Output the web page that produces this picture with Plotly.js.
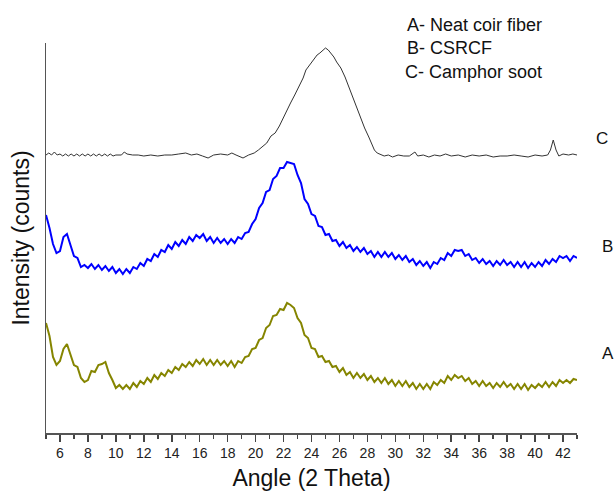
<!DOCTYPE html>
<html>
<head>
<meta charset="utf-8">
<script src="https://cdn.plot.ly/plotly-3.0.1.min.js"></script>
<style>html,body{margin:0;padding:0;background:#fff;}#chart{width:615px;height:491px;}</style>
</head>
<body>
<div id="chart"></div>
<script>
// 2θ grid (degrees) for samples A and B
const angleAB = [
 5.00,5.25,5.50,5.75,6.00,6.25,6.50,6.75,7.00,7.25,7.50,7.75,8.00,8.25,8.50,8.75,9.00,9.25,9.50,9.75,
 10.00,10.25,10.50,10.75,11.00,11.25,11.50,11.75,12.00,12.25,12.50,12.75,13.00,13.25,13.50,13.75,14.00,14.25,14.50,14.75,
 15.00,15.25,15.50,15.75,16.00,16.25,16.50,16.75,17.00,17.25,17.50,17.75,18.00,18.25,18.50,18.75,19.00,19.25,19.50,19.75,
 20.00,20.25,20.50,20.75,21.00,21.25,21.50,21.75,22.00,22.25,22.50,22.75,23.00,23.25,23.50,23.75,24.00,24.25,24.50,24.75,
 25.00,25.25,25.50,25.75,26.00,26.25,26.50,26.75,27.00,27.25,27.50,27.75,28.00,28.25,28.50,28.75,29.00,29.25,29.50,29.75,
 30.00,30.25,30.50,30.75,31.00,31.25,31.50,31.75,32.00,32.25,32.50,32.75,33.00,33.25,33.50,33.75,34.00,34.25,34.50,34.75,
 35.00,35.25,35.50,35.75,36.00,36.25,36.50,36.75,37.00,37.25,37.50,37.75,38.00,38.25,38.50,38.75,39.00,39.25,39.50,39.75,
 40.00,40.25,40.50,40.75,41.00,41.25,41.50,41.75,42.00,42.25,42.50,42.75,43.00
];
// A- Neat coir fiber (offset intensity, a.u.)
const intensityA = [
 85,72,51,43,47,59,64,54,43,41,30,26,28,37,36,43,44,46,35,28,
 20,23,19,23,19,25,21,27,24,30,26,33,29,35,32,38,35,41,38,44,
 41,46,42,48,44,49,43,48,43,48,43,47,42,47,41,47,45,51,52,59,
 60,68,70,80,83,92,93,99,98,105,103,100,90,85,73,70,60,59,51,52,
 46,47,41,42,36,40,33,36,30,35,30,34,28,32,26,30,25,30,24,28,
 22,27,22,27,21,25,19,24,19,24,19,26,23,28,25,32,28,33,30,32,
 27,30,24,27,22,27,22,25,20,25,21,26,21,24,19,24,19,24,18,23,
 20,24,21,26,21,26,22,28,25,28,25,29,28
];
// B- CSRCF (offset intensity, a.u.)
const intensityB = [
 193,180,164,155,157,171,174,164,152,150,141,143,140,144,139,143,138,142,137,141,
 135,139,134,139,135,141,139,145,142,149,147,154,151,158,156,163,159,166,162,168,
 164,171,167,173,170,174,167,171,165,170,165,169,164,169,165,171,169,175,176,184,
 189,200,205,216,218,229,232,240,240,246,245,244,233,225,209,204,194,192,182,181,
 173,174,167,168,162,166,160,163,157,161,156,160,154,157,151,156,151,156,151,155,
 149,153,148,152,146,149,143,147,142,146,140,146,144,150,148,155,152,158,157,158,
 152,154,148,150,145,149,144,147,142,147,143,148,143,146,141,146,141,146,140,145,
 141,146,142,148,144,149,146,152,150,152,147,152,150
];
// C- Camphor soot
const angleC = [
 5.0,5.2,5.4,5.6,5.8,6.0,6.2,6.4,6.6,6.8,7.0,7.2,7.4,7.6,7.8,8.0,8.2,8.4,8.6,8.8,9.0,9.2,9.4,9.6,9.8,10.0,
 10.4,10.6,10.8,11.2,11.6,12.0,12.5,13.0,13.5,14.0,14.5,15.0,15.4,15.8,16.2,16.6,17.0,
 17.5,18.0,18.3,18.6,19.1,19.5,19.9,20.2,20.5,20.8,21.1,21.4,21.7,21.9,
 22.2,22.5,22.8,23.1,23.4,23.6,23.9,24.2,24.4,24.6,24.8,25.0,25.2,25.4,25.6,25.8,
 26.1,26.4,26.7,27.0,27.3,27.5,27.8,28.1,28.3,28.5,28.7,28.9,29.2,29.5,29.8,
 30.2,30.6,31.0,31.4,31.6,32.0,32.4,32.8,33.2,33.6,34.0,
 34.5,35.0,35.5,36.0,36.5,37.0,37.5,38.0,38.5,39.0,39.5,40.0,40.5,
 40.9,41.1,41.3,41.5,41.7,42.0,42.4,42.7,43.0
];
const intensityC = [
 253,255,253,256,253,254,252,254,252,254,252,254,252,254,252,254,252,254,252,254,252,254,252,254,252,253,
 253,256,254,253,253,252,253,252,253,253,254,255,253,254,252,250,253,
 254,253,255,253,250,253,255,258,262,265,272,275,282,288,
 296,305,313,321,330,338,344,350,353,355,358,360,358,355,351,346,
 340,331,320,311,300,291,280,271,264,258,255,254,252,253,251,
 253,252,252,256,252,253,251,253,252,254,252,
 253,251,253,252,253,251,252,252,253,252,251,253,252,
 253,258,268,258,252,254,253,254,253
];
const seriesLabels = ["A", "B", "C"];
const legendLines = ["A- Neat coir fiber", "B- CSRCF", "C- Camphor soot"];
const xTickVals = [6,8,10,12,14,16,18,20,22,24,26,28,30,32,34,36,38,40,42];

const FONT = "Arial, 'Liberation Sans', sans-serif";

const traces = [
  {x: angleAB, y: intensityA, type: "scatter", mode: "lines", name: legendLines[0],
   line: {color: "#858500", width: 2}},
  {x: angleAB, y: intensityB, type: "scatter", mode: "lines", name: legendLines[1],
   line: {color: "#0000ff", width: 2}},
  {x: angleC, y: intensityC, type: "scatter", mode: "lines", name: legendLines[2],
   line: {color: "#333333", width: 1}}
];

const labelY = [0.205, 0.477, 0.756];
const labelX = [1.058, 1.058, 1.047];
const annotations = [];
seriesLabels.forEach((s, i) => annotations.push({
  text: s, xref: "paper", yref: "paper", x: labelX[i], y: labelY[i],
  xanchor: "center", yanchor: "middle", showarrow: false,
  font: {family: FONT, size: 17, color: "#111"}
}));
const legY = [1.046, 0.987, 0.926];
const legX = [0.676, 0.676, 0.672];
legendLines.forEach((t, i) => annotations.push({
  text: t, xref: "paper", yref: "paper", x: legX[i], y: legY[i],
  xanchor: "left", yanchor: "middle", showarrow: false,
  font: {family: FONT, size: 18, color: "#111"}
}));

const layout = {
  width: 615, height: 491,
  margin: {l: 46, r: 38, t: 43, b: 58},
  paper_bgcolor: "#ffffff", plot_bgcolor: "#ffffff",
  showlegend: false,
  font: {family: FONT, color: "#111"},
  xaxis: {
    range: [5, 43], tickvals: xTickVals, ticks: "outside", ticklen: 7, tickwidth: 1.5,
    tickcolor: "#444", showline: true, linecolor: "#555", linewidth: 1.5,
    showgrid: false, zeroline: false,
    tickfont: {family: FONT, size: 14, color: "#222"},
    minor: {dtick: 1, tick0: 5, ticks: "outside", ticklen: 4, tickwidth: 1.5, tickcolor: "#444", showgrid: false},
    title: {text: "Angle (2 Theta)", font: {family: FONT, size: 23, color: "#111"}, standoff: 12},
    automargin: false
  },
  yaxis: {
    range: [-25, 365], showticklabels: false, ticks: "", showline: true,
    linecolor: "#555", linewidth: 1.5, showgrid: false, zeroline: false,
    title: {text: "Intensity (counts)", font: {family: FONT, size: 23, color: "#111"}, standoff: 8},
    automargin: false
  },
  annotations: annotations
};

Plotly.newPlot("chart", traces, layout, {displayModeBar: false, staticPlot: true});
</script>
</body>
</html>
